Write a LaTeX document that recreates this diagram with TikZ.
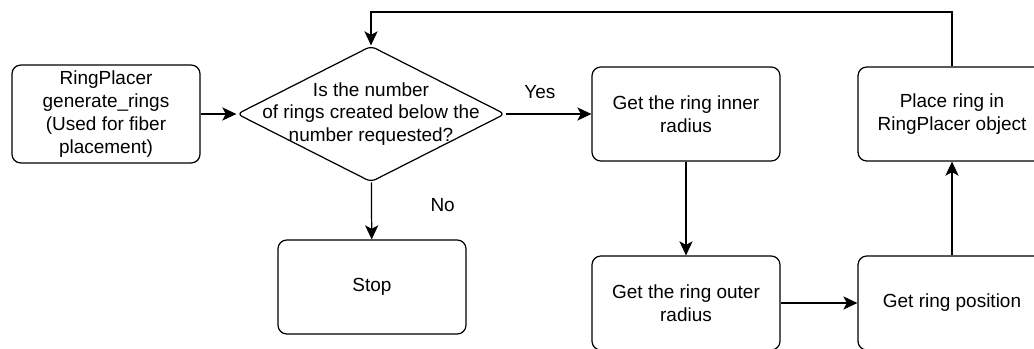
\documentclass[tikz,border=0pt]{standalone}
\usepackage{fontspec}
\setmainfont{Liberation Sans}
\usetikzlibrary{arrows.meta,positioning,shapes.geometric}

\tikzset{
  box/.style={draw, line width=0.7pt, rounded corners=5pt, minimum width=3.76cm, minimum height=1.88cm, align=center, font=\fontsize{10.8pt}{13pt}\selectfont},
  decision/.style={draw, line width=0.7pt, diamond, rounded corners=3pt, minimum width=5.36cm, minimum height=2.72cm, inner sep=0pt},
  dectext/.style={align=center, font=\fontsize{10.8pt}{13pt}\selectfont},
  flow/.style={-{Stealth[length=8pt,width=7.5pt,inset=2pt]}, line width=0.7pt},
  lbl/.style={font=\fontsize{10.8pt}{13pt}\selectfont}
}

\begin{document}
\begin{tikzpicture}
  \useasboundingbox (0,0) rectangle (20.68,-6.96);

  %% left part
  \node[box] (start) at (2.12,-2.28) {RingPlacer\\generate\_rings\\(Used for fiber\\placement)};
  \node[decision, label={[dectext]center:Is the number\\of rings created below the\\number requested?}] (check) at (7.42,-2.28) {};
  \node[box] (stop) at (7.44,-5.74) {Stop};

  %% ring steps
  \node[box] (inner) at (13.72,-2.28) {Get the ring inner\\radius};
  \node[box] (outer) at (13.72,-6.06) {Get the ring outer\\radius};
  \node[box] (position) at (19.04,-6.06) {Get ring position};
  \node[box] (place) at (19.04,-2.28) {Place ring in\\RingPlacer object};

  \coordinate (looptop) at (19.04,-0.24);

  %% connectors
  \draw[flow] (start) -- (check);
  \draw[flow] (check) -- node[lbl, pos=0.4, above=5pt] {Yes} (inner);
  \draw[flow] (check) -- node[lbl, pos=0.4, right=1.05cm] {No} (stop);
  \draw[flow] (inner) -- (outer);
  \draw[flow] (outer) -- (position);
  \draw[flow] (position) -- (place);
  \draw[flow] (place.north) -- (looptop) -| (check.north);
\end{tikzpicture}
\end{document}
